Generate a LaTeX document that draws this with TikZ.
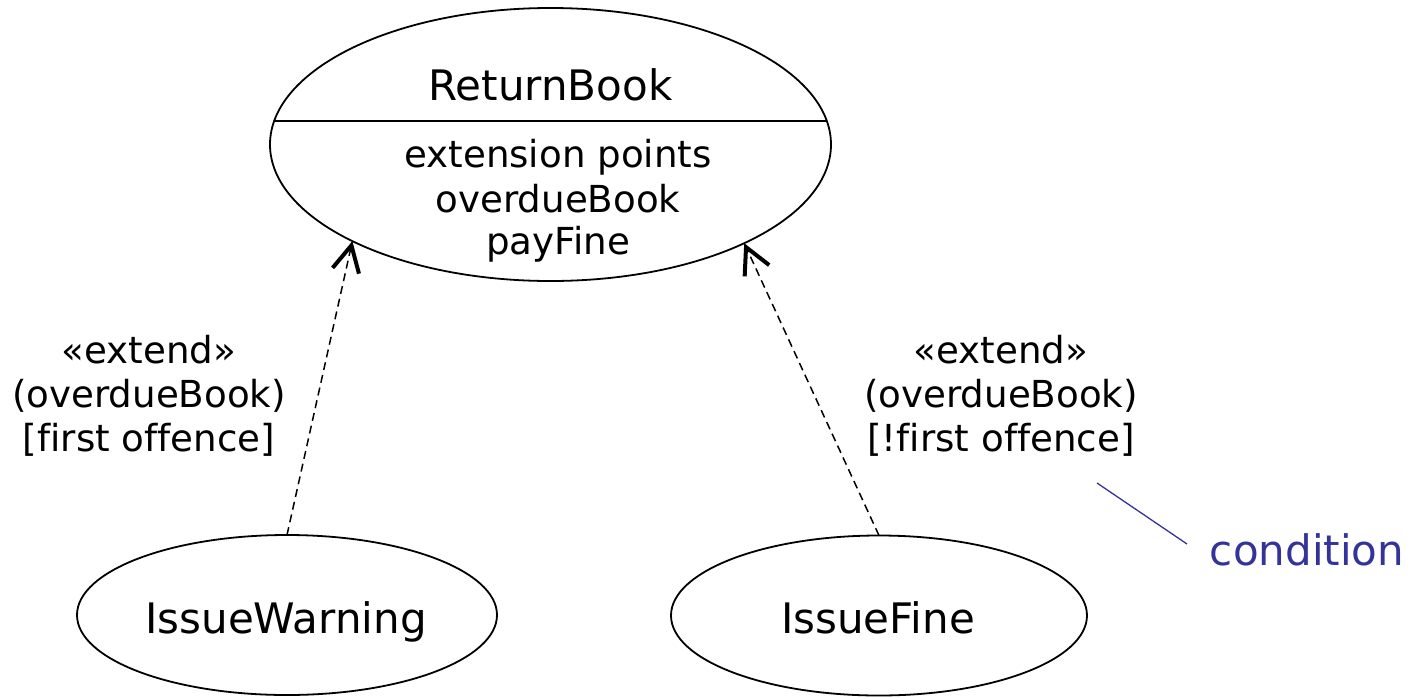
\documentclass[tikz,border=0pt]{standalone}
\usepackage{fontspec}
\setmainfont{DejaVu Sans}[Ligatures={NoCommon}]
\usetikzlibrary{shapes.geometric,arrows.meta}

\definecolor{notecol}{HTML}{333399}

\tikzset{
  usecase/.style={ellipse, draw=black, line width=0.9pt, inner sep=0pt, outer sep=0pt},
  titletext/.style={anchor=base, inner sep=0pt, font=\fontsize{21}{25}\selectfont},
  bodytext/.style={anchor=base, inner sep=0pt, font=\fontsize{18.6}{22}\selectfont},
  extendarrow/.style={line width=0.75pt, dash pattern=on 4pt off 2.5pt,
    -{Straight Barb[length=13pt, width=13.5pt, line width=2pt]}},
  notetext/.style={anchor=base, inner sep=0pt, text=notecol, font=\fontsize{21}{25}\selectfont},
  noteline/.style={draw=notecol, line width=0.65pt}
}

\begin{document}
\begin{tikzpicture}[x=0.5pt, y=-0.5pt]
  \useasboundingbox (0,0) rectangle (1420,697);

  % ReturnBook use case with its extension-point compartment
  \node[usecase, minimum width=280.5pt, minimum height=136.5pt] (rb) at (550.5,144.5) {};
  \node[titletext] (rbname) at (550.5,100.7) {ReturnBook};
  \draw[line width=0.9pt] (274.1,121) -- (826.9,121);
  \node[bodytext] (rbep) at (558,167) {extension points};
  \node[bodytext] (rbod) at (558,212.5) {overdueBook};
  \node[bodytext] (rbpf) at (558,254.5) {payFine};

  % extending use cases
  \node[usecase, minimum width=210pt, minimum height=80pt] (iw) at (287,615) {};
  \node[titletext] (iwname) at (286,633) {IssueWarning};
  \node[usecase, minimum width=208pt, minimum height=80pt] (ifn) at (879,615.5) {};
  \node[titletext] (ifname) at (878,633) {IssueFine};

  % extend relationships
  \draw[extendarrow] (iw.north) -- (rb.206.4);
  \draw[extendarrow] (ifn.north) -- (rb.333.6);

  % relationship labels
  \node[bodytext] (l1a) at (149,363) {«extend»};
  \node[bodytext] (l1b) at (149,407.7) {(overdueBook)};
  \node[bodytext] (l1c) at (149,451.7) {[first offence]};
  \node[bodytext] (l2a) at (1001,363) {«extend»};
  \node[bodytext] (l2b) at (1001,407.7) {(overdueBook)};
  \node[bodytext] (l2c) at (1001,451.7) {[!first offence]};

  % annotation
  \node[notetext] (cond) at (1307,565) {condition};
  \coordinate (condA) at (1097,483);
  \coordinate (condB) at (1187,544);
  \draw[noteline] (condA) -- (condB);
\end{tikzpicture}
\end{document}
